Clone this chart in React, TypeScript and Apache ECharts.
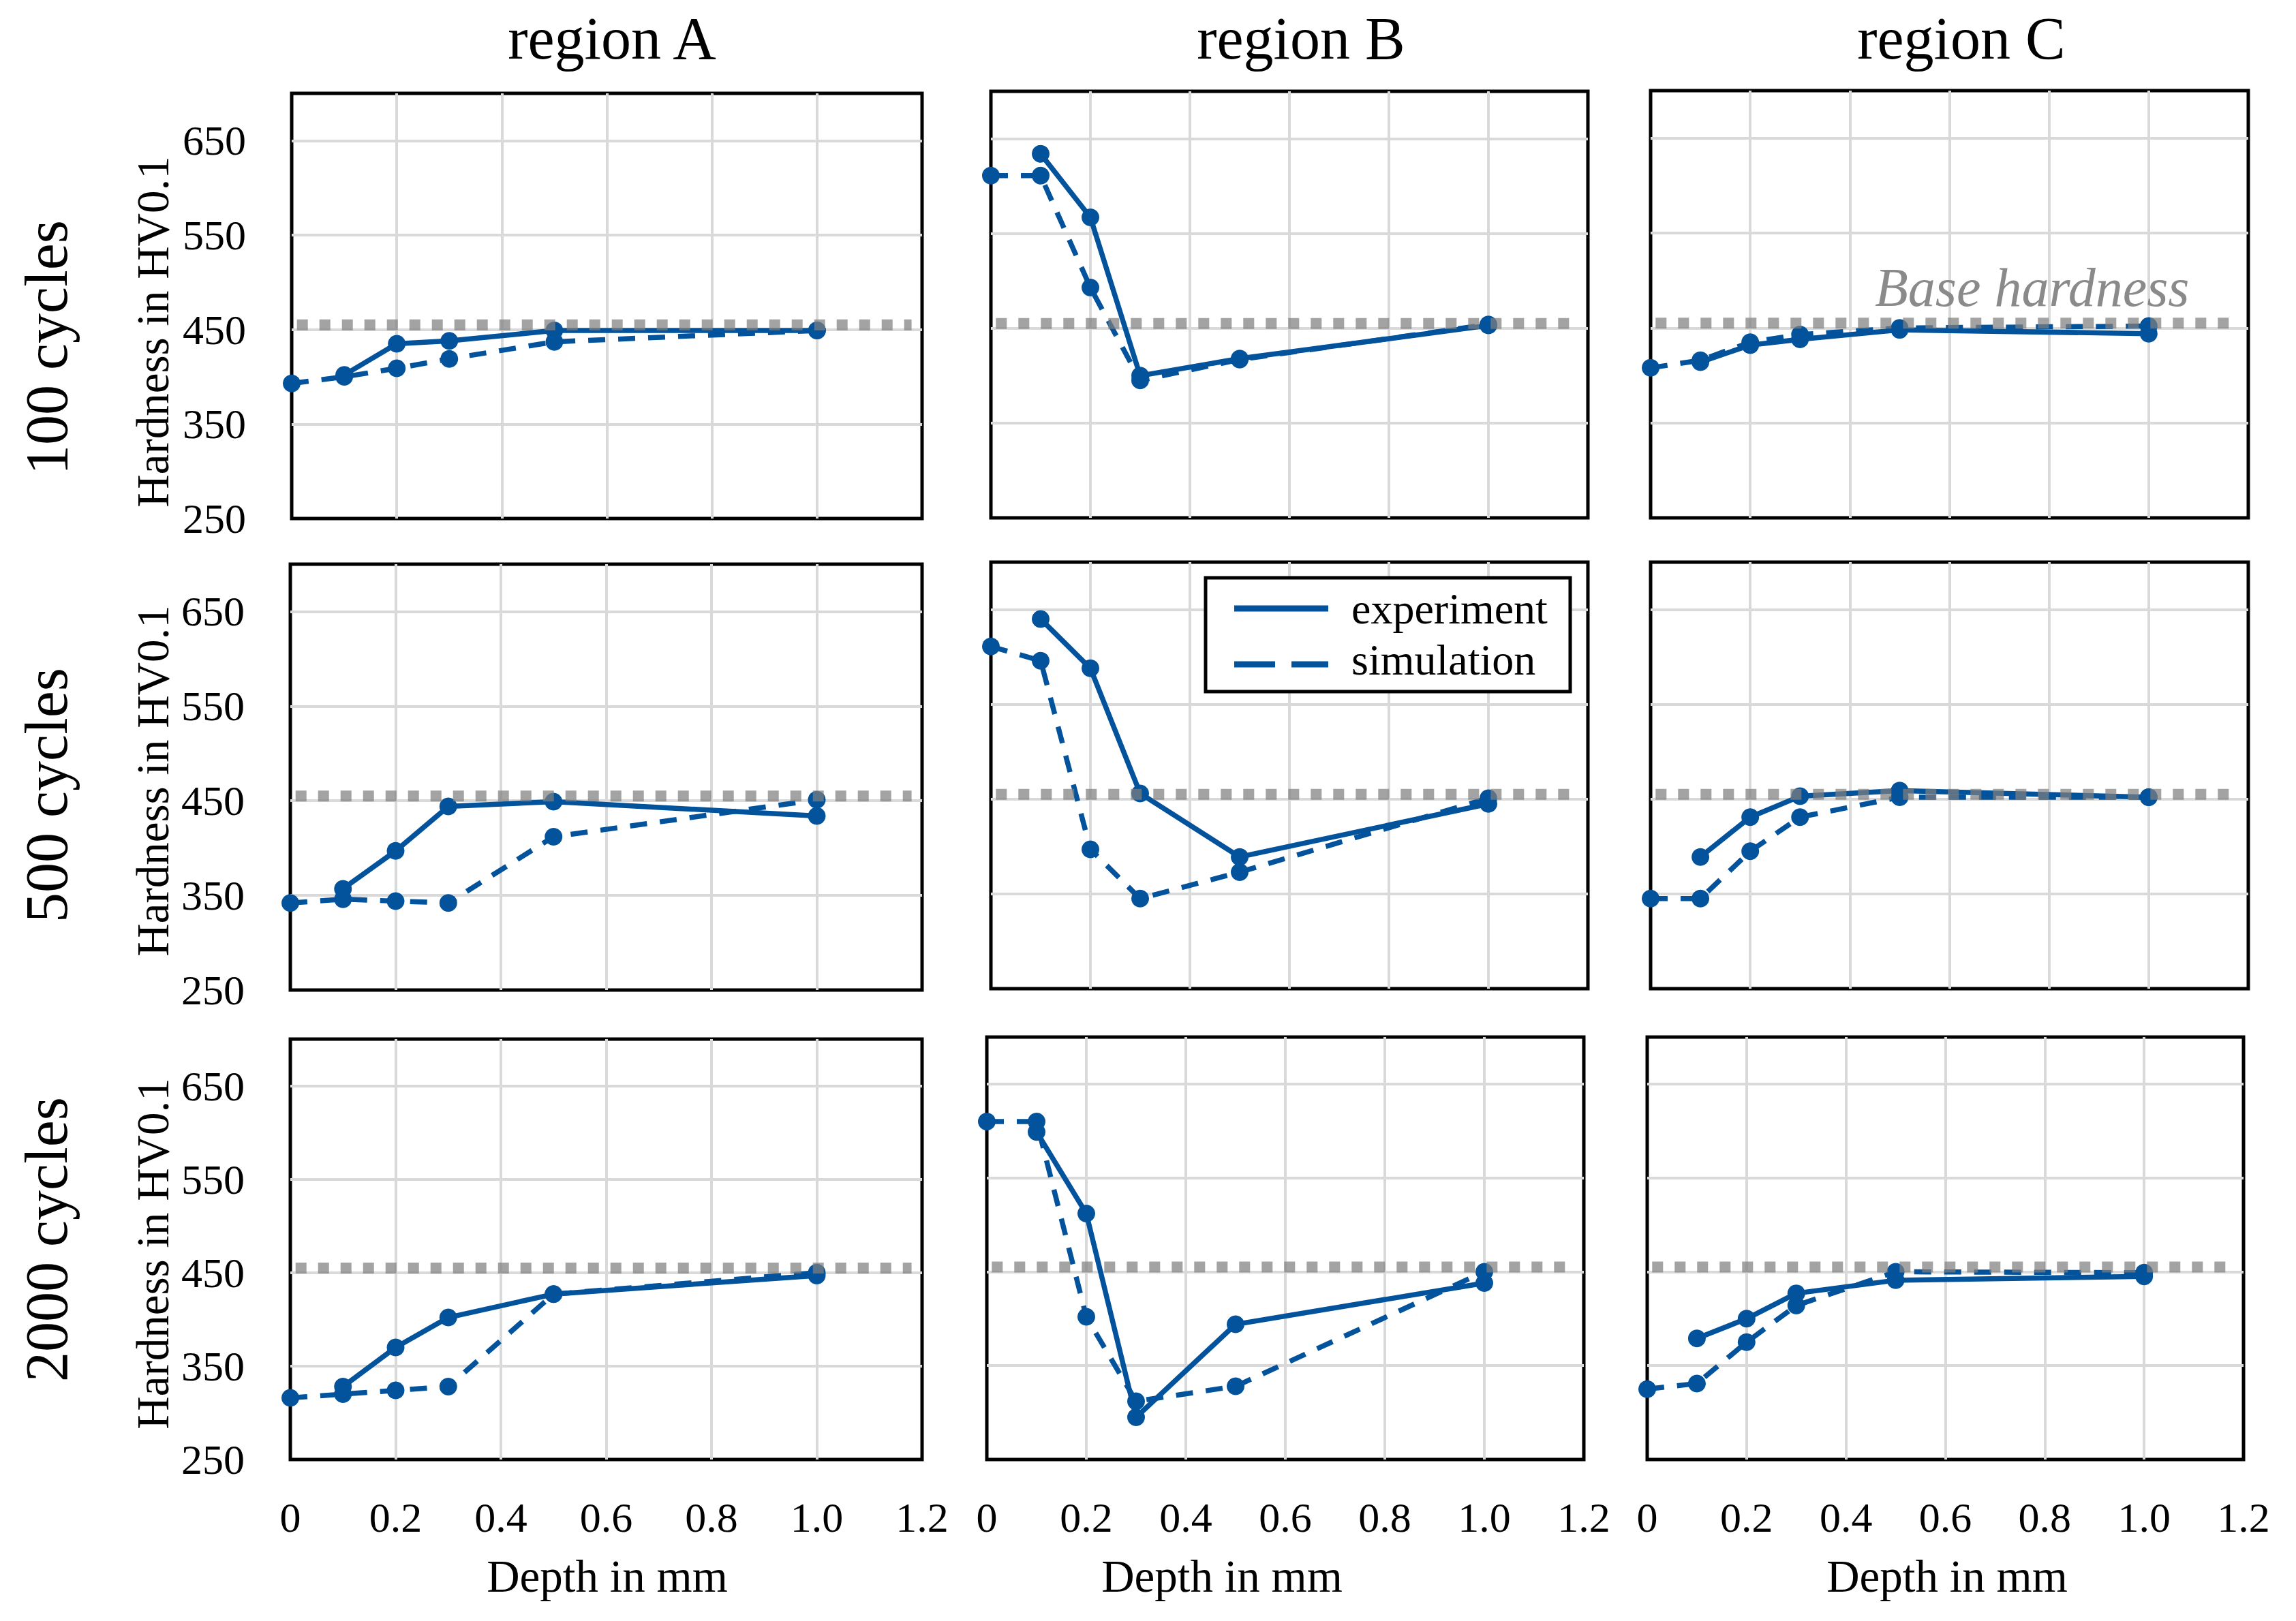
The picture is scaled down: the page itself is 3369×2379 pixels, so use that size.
import React, { useEffect, useRef } from 'react';
import * as echarts from 'echarts';

// ---------- data ----------
const regionTitles = ['region A', 'region B', 'region C'];
const cycleLabels = ['100 cycles', '500 cycles', '2000 cycles'];
const yAxisName = 'Hardness in HV0.1';
const xAxisName = 'Depth in mm';
const seriesNames = ['experiment', 'simulation'];

const simDepth = [0, 0.1, 0.2, 0.3, 0.5, 1.0];
const expDepth = [0.1, 0.2, 0.3, 0.5, 1.0];

const exp100A = [402, 435, 438, 449, 449];
const exp100B = [634, 567, 400, 418, 453];
const exp100C = [414, 432, 438, 448, 444];
const sim100A = [393, 400, 409, 419, 437, 449];
const sim100B = [611, 611, 493, 395, 417, 454];
const sim100C = [408, 416, 435, 443, 450, 452];

const exp500A = [357, 397, 444, 449, 434];
const exp500B = [640, 588, 456, 389, 445];
const exp500C = [389, 431, 453, 459, 452];
const sim500A = [342, 346, 344, 342, 412, 451];
const sim500B = [611, 596, 397, 345, 373, 451];
const sim500C = [345, 345, 395, 431, 452, 452];

const exp2000A = [328, 370, 402, 427, 447];
const exp2000B = [599, 512, 295, 394, 438];
const exp2000C = [379, 400, 427, 441, 445];
const sim2000A = [316, 320, 324, 328, 427, 450];
const sim2000B = [610, 610, 402, 312, 328, 450];
const sim2000C = [325, 331, 375, 414, 450, 449];

const experiment = [
  [exp100A, exp100B, exp100C],
  [exp500A, exp500B, exp500C],
  [exp2000A, exp2000B, exp2000C],
];
const simulation = [
  [sim100A, sim100B, sim100C],
  [sim500A, sim500B, sim500C],
  [sim2000A, sim2000B, sim2000C],
];

const baseHardness = 455;
const baseLabel = 'Base hardness';
const baseSpan = [0.01, 1.18];

const yTickValues = [250, 350, 450, 550, 650];
const yMin = 250;
const yMax = 700;
const yStep = 100;
const xMin = 0;
const xMax = 1.2;
const xStep = 0.2;

// ---------- layout ----------
const panelRects = [
  [[428, 137, 925, 624], [1454, 134, 876, 626], [2422, 133, 877, 627]],
  [[426, 828, 927, 625], [1454, 825, 876, 626], [2422, 825, 877, 626]],
  [[426, 1525, 927, 617], [1448, 1522, 876, 620], [2417, 1522, 875, 620]],
];

const FONT = '"Liberation Serif", "Times New Roman", serif';
const BLUE = '#02529C';
const GRID_GRAY = '#D9D9D9';

function buildOption() {
  const grids: any[] = [];
  const xAxes: any[] = [];
  const yAxes: any[] = [];
  const series: any[] = [];

  for (let r = 0; r < 3; r++) {
    for (let c = 0; c < 3; c++) {
      const idx = r * 3 + c;
      const [left, top, width, height] = panelRects[r][c];
      grids.push({
        left, top, width, height,
        show: true,
        borderColor: '#000',
        borderWidth: 5,
        backgroundColor: 'rgba(0,0,0,0)',
        containLabel: false,
        outerBoundsMode: 'none',
      });
      xAxes.push({
        type: 'value',
        gridIndex: idx,
        min: xMin, max: xMax, interval: xStep,
        axisLine: { show: false },
        axisTick: { show: false },
        splitLine: { show: true, showMinLine: false, showMaxLine: false, lineStyle: { color: GRID_GRAY, width: 4 } },
        axisLabel: {
          show: r === 2,
          margin: 54,
          fontSize: 62,
          fontFamily: FONT,
          color: '#000',
          formatter: (v: number) => (Math.abs(v) < 1e-9 ? '0' : v.toFixed(1)),
        },
      });
      yAxes.push({
        type: 'value',
        gridIndex: idx,
        min: yMin, max: yMax, interval: yStep,
        axisLine: { show: false },
        axisTick: { show: false },
        splitLine: { show: true, showMinLine: false, showMaxLine: false, lineStyle: { color: GRID_GRAY, width: 4 } },
        axisLabel: {
          show: c === 0,
          margin: 67,
          fontSize: 62,
          fontFamily: FONT,
          color: '#000',
          formatter: (v: number) => (yTickValues.indexOf(Math.round(v)) >= 0 ? String(Math.round(v)) : ''),
        },
      });
      series.push({
        name: seriesNames[1],
        type: 'line',
        xAxisIndex: idx, yAxisIndex: idx,
        data: simDepth.map((d, k) => [d, simulation[r][c][k]]),
        symbol: 'circle',
        symbolSize: 26,
        itemStyle: { color: BLUE, borderWidth: 0 },
        lineStyle: { color: BLUE, width: 7.5, type: [25, 19] },
        z: 3,
        silent: true,
      });
      series.push({
        name: seriesNames[0],
        type: 'line',
        xAxisIndex: idx, yAxisIndex: idx,
        data: expDepth.map((d, k) => [d, experiment[r][c][k]]),
        symbol: 'circle',
        symbolSize: 26,
        itemStyle: { color: BLUE, borderWidth: 0 },
        lineStyle: { color: BLUE, width: 7.5 },
        z: 4,
        silent: true,
      });
      series.push({
        name: baseLabel,
        type: 'line',
        xAxisIndex: idx, yAxisIndex: idx,
        data: baseSpan.map((x) => [x, baseHardness]),
        symbol: 'none',
        lineStyle: { color: 'rgba(128,128,128,0.72)', width: 16, type: [16, 17], cap: 'butt' },
        z: 5,
        silent: true,
      });
    }
  }

  const graphics: any[] = [];
  const titleX = [898, 1909, 2878];
  regionTitles.forEach((t, i) => {
    graphics.push({
      type: 'text', x: titleX[i], y: 56, z: 100,
      style: { text: t, fontSize: 88, fontFamily: FONT, fill: '#000', align: 'center', verticalAlign: 'middle' },
    });
  });
  const cycleY = [510, 1167, 1819];
  cycleLabels.forEach((t, i) => {
    graphics.push({
      type: 'text', x: 68, y: cycleY[i], rotation: Math.PI / 2, z: 100,
      style: { text: t, fontSize: 88, fontFamily: FONT, fill: '#000', align: 'center', verticalAlign: 'middle' },
    });
  });
  const yNameY = [487, 1146, 1840];
  yNameY.forEach((y) => {
    graphics.push({
      type: 'text', x: 224, y, rotation: Math.PI / 2, z: 100,
      style: { text: yAxisName, fontSize: 67, fontFamily: FONT, fill: '#000', align: 'center', verticalAlign: 'middle' },
    });
  });
  const xNameX = [891, 1793, 2857];
  xNameX.forEach((x) => {
    graphics.push({
      type: 'text', x, y: 2313, z: 100,
      style: { text: xAxisName, fontSize: 67, fontFamily: FONT, fill: '#000', align: 'center', verticalAlign: 'middle' },
    });
  });
  graphics.push({
    type: 'text', x: 2751, y: 422, z: 100,
    style: { text: baseLabel, fontSize: 80, fontFamily: FONT, fontStyle: 'italic', fill: '#8A8A8A', align: 'left', verticalAlign: 'middle' },
  });
  // legend box
  graphics.push({
    type: 'rect', z: 100,
    shape: { x: 1769, y: 848, width: 535, height: 167 },
    style: { fill: '#fff', stroke: '#000', lineWidth: 5 },
  });
  graphics.push({
    type: 'line', z: 101,
    shape: { x1: 1811, y1: 893, x2: 1949, y2: 893 },
    style: { stroke: BLUE, lineWidth: 9 },
  });
  graphics.push({
    type: 'line', z: 101,
    shape: { x1: 1811, y1: 975, x2: 1949, y2: 975 },
    style: { stroke: BLUE, lineWidth: 9, lineDash: [60, 24] },
  });
  graphics.push({
    type: 'text', x: 1983, y: 893, z: 101,
    style: { text: seriesNames[0], fontSize: 64, fontFamily: FONT, fill: '#000', align: 'left', verticalAlign: 'middle' },
  });
  graphics.push({
    type: 'text', x: 1983, y: 968, z: 101,
    style: { text: seriesNames[1], fontSize: 64, fontFamily: FONT, fill: '#000', align: 'left', verticalAlign: 'middle' },
  });

  return {
    animation: false,
    backgroundColor: '#fff',
    grid: grids,
    xAxis: xAxes,
    yAxis: yAxes,
    series,
    graphic: graphics,
  };
}

export default function App() {
  const ref = useRef<HTMLDivElement>(null);
  useEffect(() => {
    document.body.style.margin = '0';
    const chart = echarts.init(ref.current as HTMLDivElement, null, { renderer: 'svg' });
    chart.setOption(buildOption() as any);
    return () => chart.dispose();
  }, []);
  return <div ref={ref} style={{ width: '3369px', height: '2379px', overflow: 'hidden' }} />;
}
